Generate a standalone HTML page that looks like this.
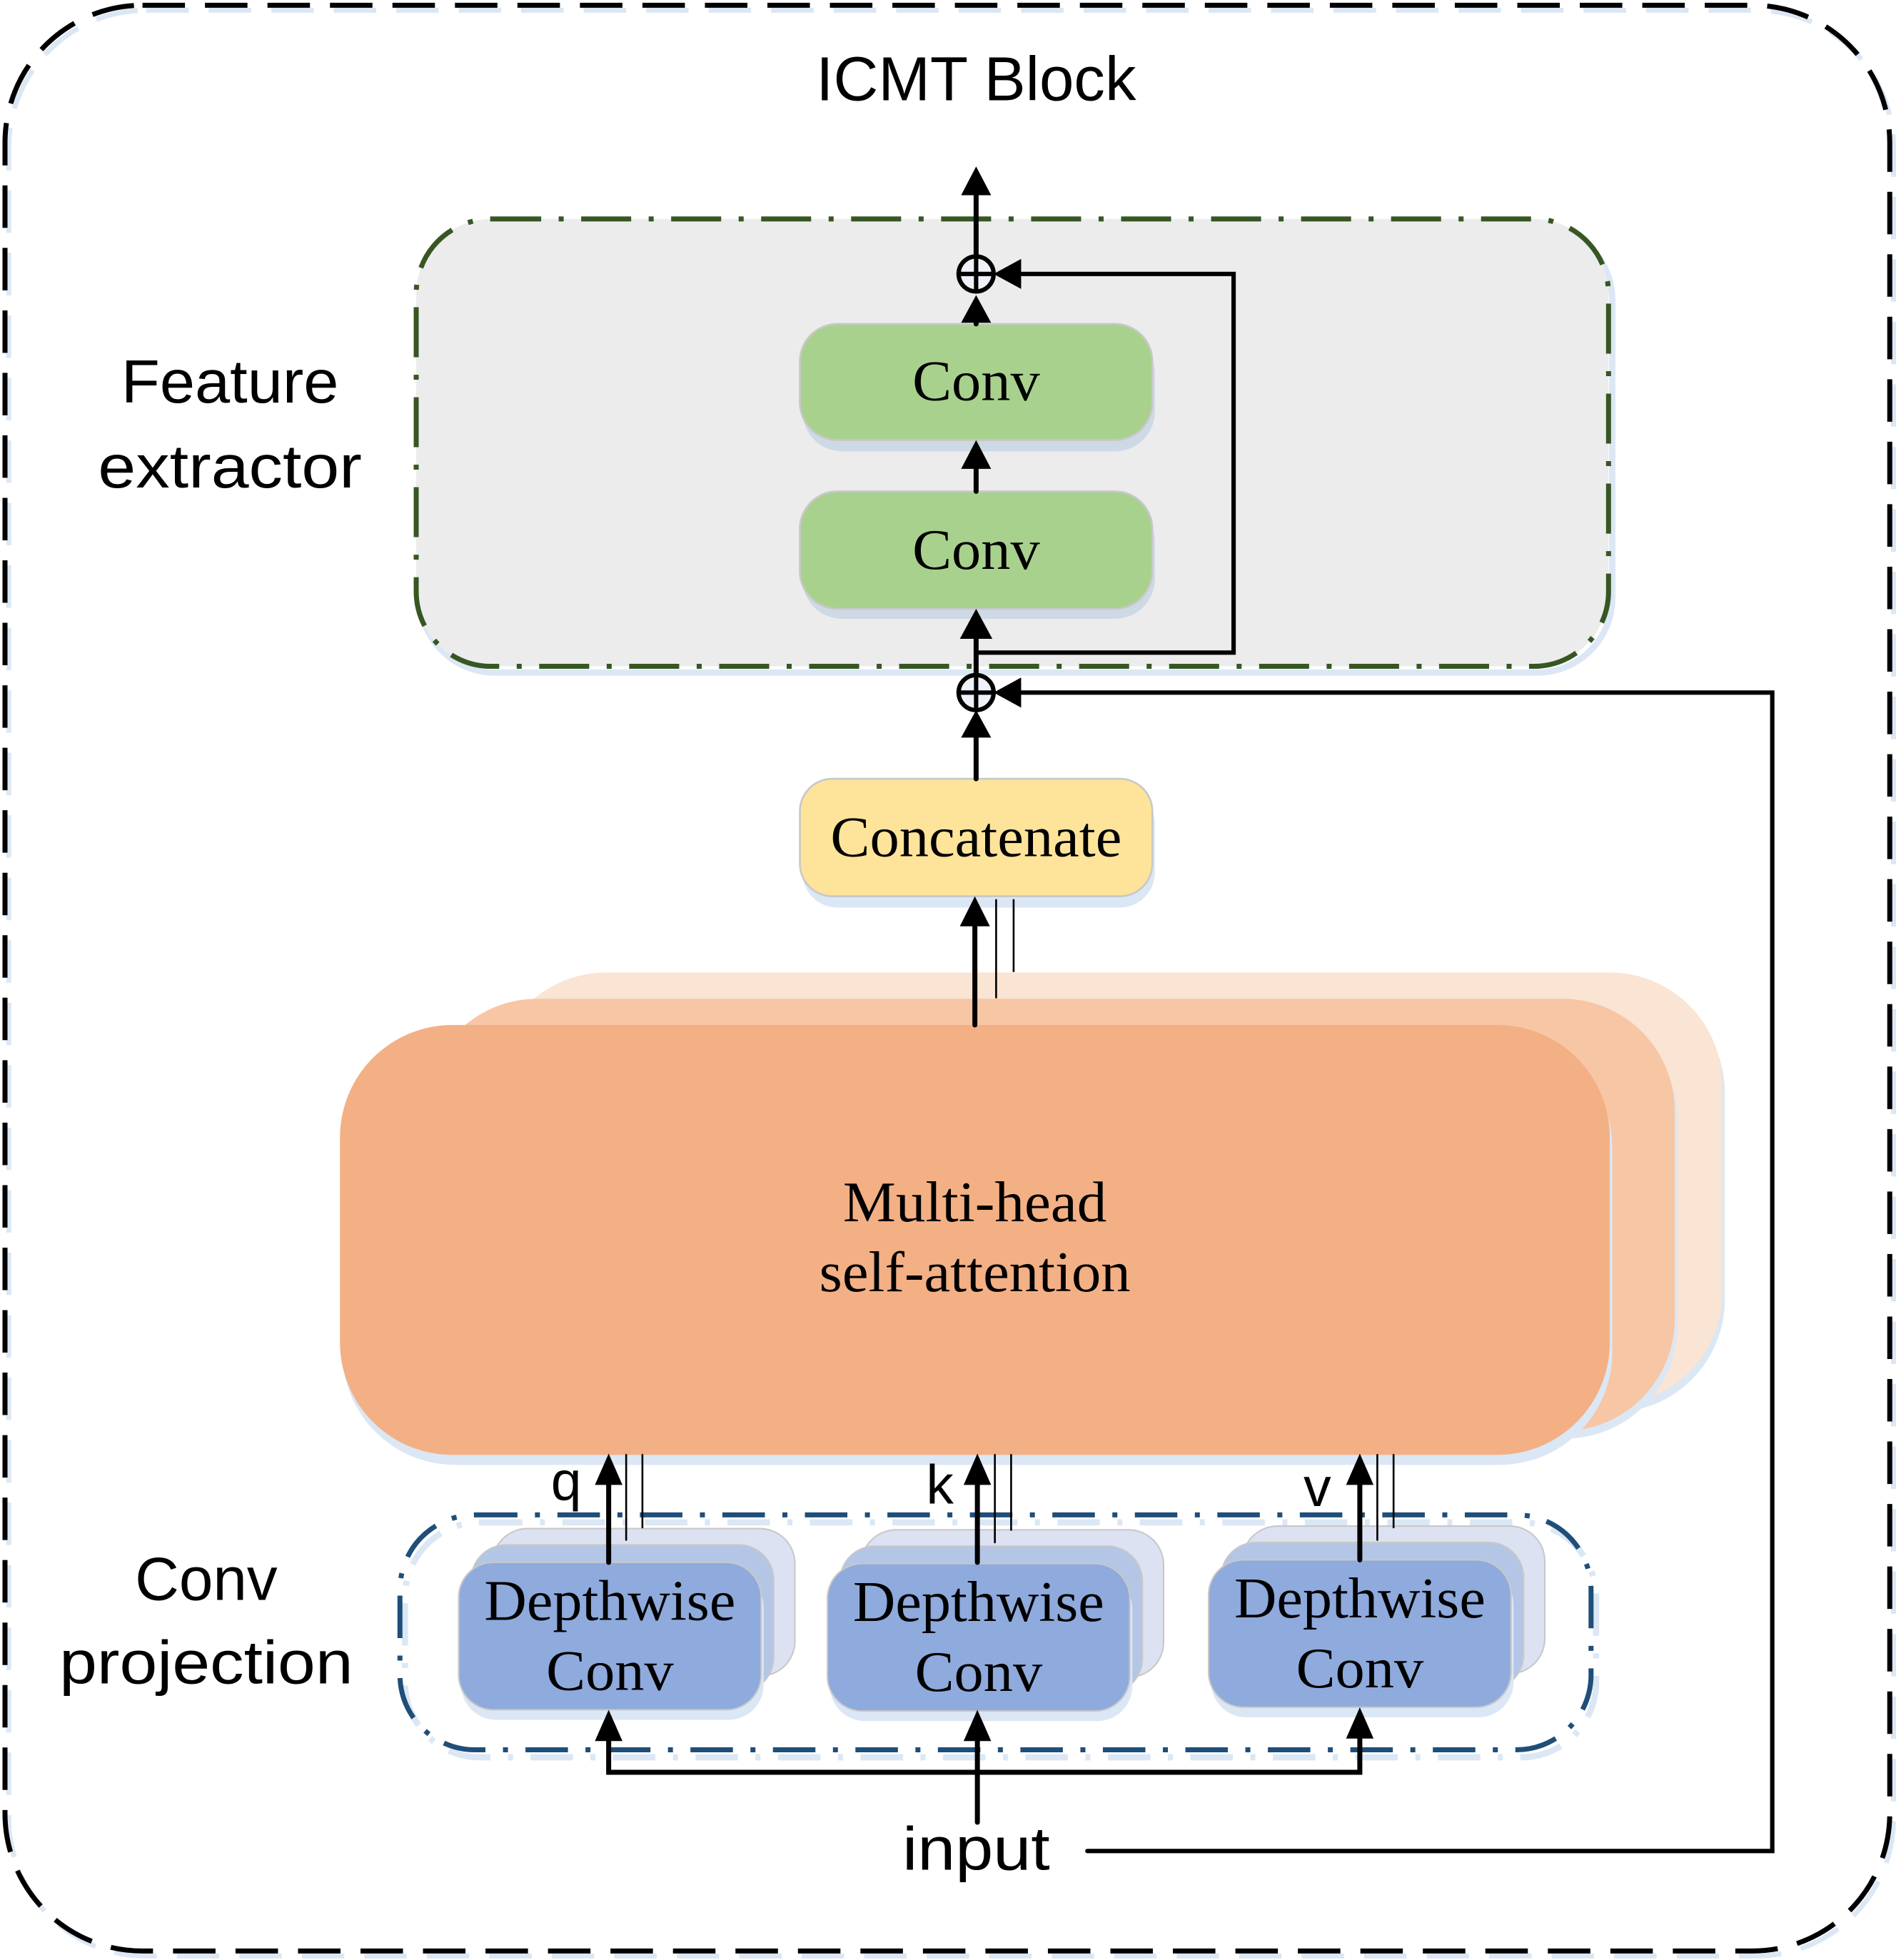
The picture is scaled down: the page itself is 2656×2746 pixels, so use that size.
<!DOCTYPE html>
<html><head><meta charset="utf-8"><style>html,body{margin:0;padding:0;background:#fff}svg{display:block}</style></head>
<body>
<svg width="2656" height="2746" viewBox="0 0 1517 1568" xmlns="http://www.w3.org/2000/svg">
<style>
.sans{font-family:"Liberation Sans","DejaVu Sans",sans-serif}
.serif{font-family:"Liberation Serif",serif}
</style>
<!-- outer -->
<rect x="7" y="8" width="1508" height="1557" rx="110" fill="none" stroke="#dbe7f4" stroke-width="4" stroke-dasharray="34,16"/>
<rect x="4" y="4" width="1508" height="1557" rx="110" fill="none" stroke="#000" stroke-width="4" stroke-dasharray="34,16"/>
<text x="781" y="80" class="sans" font-size="50" text-anchor="middle" textLength="256" lengthAdjust="spacingAndGlyphs">ICMT Block</text>

<!-- feature extractor -->
<rect x="336" y="180" width="954" height="358" rx="60" fill="none" stroke="#dbe7f4" stroke-width="5"/>
<rect x="333" y="175" width="954" height="358" rx="60" fill="#ececec" stroke="#375623" stroke-width="4" stroke-dasharray="40,14,4,14"/>
<text x="184" y="322" class="sans" font-size="49" text-anchor="middle" textLength="174" lengthAdjust="spacingAndGlyphs">Feature</text>
<text x="184" y="390" class="sans" font-size="49" text-anchor="middle" textLength="211" lengthAdjust="spacingAndGlyphs">extractor</text>

<rect x="642" y="267" width="282" height="94" rx="32" fill="#cdd9e5"/>
<rect x="640" y="259" width="282" height="93" rx="30" fill="#a9d18e" stroke="#c8c8c8" stroke-width="1.5"/>
<text x="781" y="320" class="serif" font-size="46" text-anchor="middle" textLength="102" lengthAdjust="spacingAndGlyphs">Conv</text>
<rect x="642" y="401" width="282" height="94" rx="32" fill="#cdd9e5"/>
<rect x="640" y="393" width="282" height="94" rx="30" fill="#a9d18e" stroke="#c8c8c8" stroke-width="1.5"/>
<text x="781" y="455" class="serif" font-size="46" text-anchor="middle" textLength="102" lengthAdjust="spacingAndGlyphs">Conv</text>

<!-- concatenate -->
<rect x="642" y="631" width="282" height="95" rx="28" fill="#dbe7f4"/>
<rect x="640" y="623" width="282" height="94" rx="26" fill="#fde49a" stroke="#c8c8c8" stroke-width="1.5"/>
<text x="781" y="685" class="serif" font-size="46" text-anchor="middle" textLength="233" lengthAdjust="spacingAndGlyphs">Concatenate</text>

<!-- MHSA -->
<rect x="397" y="784" width="983" height="346" rx="90" fill="#dbe7f4"/>
<rect x="395" y="778" width="983" height="346" rx="90" fill="#fae4d3"/>
<rect x="342" y="805" width="1000" height="346" rx="90" fill="#dbe7f4"/>
<rect x="340" y="799" width="1000" height="346" rx="90" fill="#f7c6a5"/>
<rect x="274" y="828" width="1016" height="344" rx="90" fill="#dbe7f4"/>
<rect x="272" y="820" width="1016" height="344" rx="90" fill="#f3b085"/>
<text x="780" y="977" class="serif" font-size="46" text-anchor="middle" textLength="211" lengthAdjust="spacingAndGlyphs">Multi-head</text>
<text x="780" y="1033" class="serif" font-size="46" text-anchor="middle" textLength="249" lengthAdjust="spacingAndGlyphs">self-attention</text>

<!-- conv projection -->
<rect x="324" y="1218" width="953" height="188" rx="60" fill="none" stroke="#dbe7f4" stroke-width="5" stroke-dasharray="34,14,4,14"/>
<rect x="320" y="1212" width="953" height="188" rx="60" fill="none" stroke="#1f4e79" stroke-width="4" stroke-dasharray="34,14,4,14"/>
<text x="165" y="1280" class="sans" font-size="49" text-anchor="middle" textLength="114" lengthAdjust="spacingAndGlyphs">Conv</text>
<text x="165" y="1347" class="sans" font-size="49" text-anchor="middle" textLength="235" lengthAdjust="spacingAndGlyphs">projection</text>

<g id="dw">
<rect x="394" y="1223" width="242" height="118" rx="28" fill="#dce2f2" stroke="#c8c8c8" stroke-width="1.2"/>
<rect x="377" y="1236" width="242" height="118" rx="28" fill="#b4c6e6" stroke="#c8c8c8" stroke-width="1.2"/>
<rect x="369" y="1258" width="242" height="118" rx="28" fill="#dbe7f4"/>
<rect x="367" y="1250" width="242" height="118" rx="28" fill="#8faadc" stroke="#c8c8c8" stroke-width="1.2"/>
</g>
<text x="488" y="1296" class="serif" font-size="46" text-anchor="middle" textLength="201" lengthAdjust="spacingAndGlyphs">Depthwise</text>
<text x="488" y="1352" class="serif" font-size="46" text-anchor="middle" textLength="102" lengthAdjust="spacingAndGlyphs">Conv</text>
<use href="#dw" transform="translate(295,1)"/>
<text x="783" y="1297" class="serif" font-size="46" text-anchor="middle" textLength="201" lengthAdjust="spacingAndGlyphs">Depthwise</text>
<text x="783" y="1353" class="serif" font-size="46" text-anchor="middle" textLength="102" lengthAdjust="spacingAndGlyphs">Conv</text>
<use href="#dw" transform="translate(600,-2)"/>
<text x="1088" y="1294" class="serif" font-size="46" text-anchor="middle" textLength="201" lengthAdjust="spacingAndGlyphs">Depthwise</text>
<text x="1088" y="1350" class="serif" font-size="46" text-anchor="middle" textLength="102" lengthAdjust="spacingAndGlyphs">Conv</text>

<!-- lines -->
<g stroke="#000" fill="none" stroke-linecap="round">
<line x1="781" y1="150" x2="781" y2="232" stroke-width="4"/>
<line x1="781" y1="250" x2="781" y2="259" stroke-width="4"/>
<line x1="781" y1="368" x2="781" y2="393" stroke-width="4"/>
<line x1="781" y1="505" x2="781" y2="568" stroke-width="4"/>
<polyline points="781,522 987,522 987,219 810,219" stroke-width="3.5"/>
<polyline points="870,1481 1418,1481 1418,554 810,554" stroke-width="3.5"/>
<line x1="781" y1="584" x2="781" y2="623" stroke-width="4"/>
<line x1="780" y1="735" x2="780" y2="820" stroke-width="4"/>
<line x1="797" y1="720" x2="797" y2="798" stroke-width="1.5"/>
<line x1="811" y1="720" x2="811" y2="777" stroke-width="1.5"/>
<line x1="487" y1="1180" x2="487" y2="1250" stroke-width="4"/>
<line x1="782" y1="1180" x2="782" y2="1250" stroke-width="4"/>
<line x1="1088" y1="1180" x2="1088" y2="1248" stroke-width="4"/>
<line x1="501" y1="1164" x2="501" y2="1232" stroke-width="1.5"/>
<line x1="514" y1="1164" x2="514" y2="1222" stroke-width="1.5"/>
<line x1="796" y1="1164" x2="796" y2="1234" stroke-width="1.5"/>
<line x1="809" y1="1164" x2="809" y2="1224" stroke-width="1.5"/>
<line x1="1102" y1="1164" x2="1102" y2="1232" stroke-width="1.5"/>
<line x1="1115" y1="1164" x2="1115" y2="1222" stroke-width="1.5"/>
<polyline points="487,1388 487,1418 1088,1418 1088,1388" stroke-width="4"/>
<line x1="782" y1="1388" x2="782" y2="1458" stroke-width="4"/>
<circle cx="781" cy="219" r="14" stroke-width="3.5" fill="#eef2f8"/>
<line x1="767" y1="219" x2="795" y2="219" stroke-width="3.5"/>
<line x1="781" y1="205" x2="781" y2="233" stroke-width="3.5"/>
<circle cx="781" cy="554" r="14" stroke-width="3.5" fill="#eef2f8"/>
<line x1="767" y1="554" x2="795" y2="554" stroke-width="3.5"/>
<line x1="781" y1="540" x2="781" y2="568" stroke-width="3.5"/>
</g>
<g fill="#000">
<polygon points="781,133 769,156 793,156"/>
<polygon points="781,236 769,258 793,258"/>
<polygon points="781,352 769,375 793,375"/>
<polygon points="781,487 768,511 794,511"/>
<polygon points="781,568 769,590 793,590"/>
<polygon points="780,717 768,741 792,741"/>
<polygon points="795,219 817,207 817,231"/>
<polygon points="795,554 817,542 817,566"/>
<polygon points="487,1163 476,1188 498,1188"/>
<polygon points="782,1163 771,1188 793,1188"/>
<polygon points="1088,1163 1077,1188 1099,1188"/>
<polygon points="487,1368 476,1393 498,1393"/>
<polygon points="782,1368 771,1393 793,1393"/>
<polygon points="1088,1366 1077,1391 1099,1391"/>
</g>
<text x="453" y="1200" class="sans" font-size="44" text-anchor="middle">q</text>
<text x="752" y="1203" class="sans" font-size="44" text-anchor="middle">k</text>
<text x="1054" y="1205" class="sans" font-size="44" text-anchor="middle">v</text>
<text x="781" y="1496" class="sans" font-size="49" text-anchor="middle" textLength="118" lengthAdjust="spacingAndGlyphs">input</text>
</svg>
</body></html>
